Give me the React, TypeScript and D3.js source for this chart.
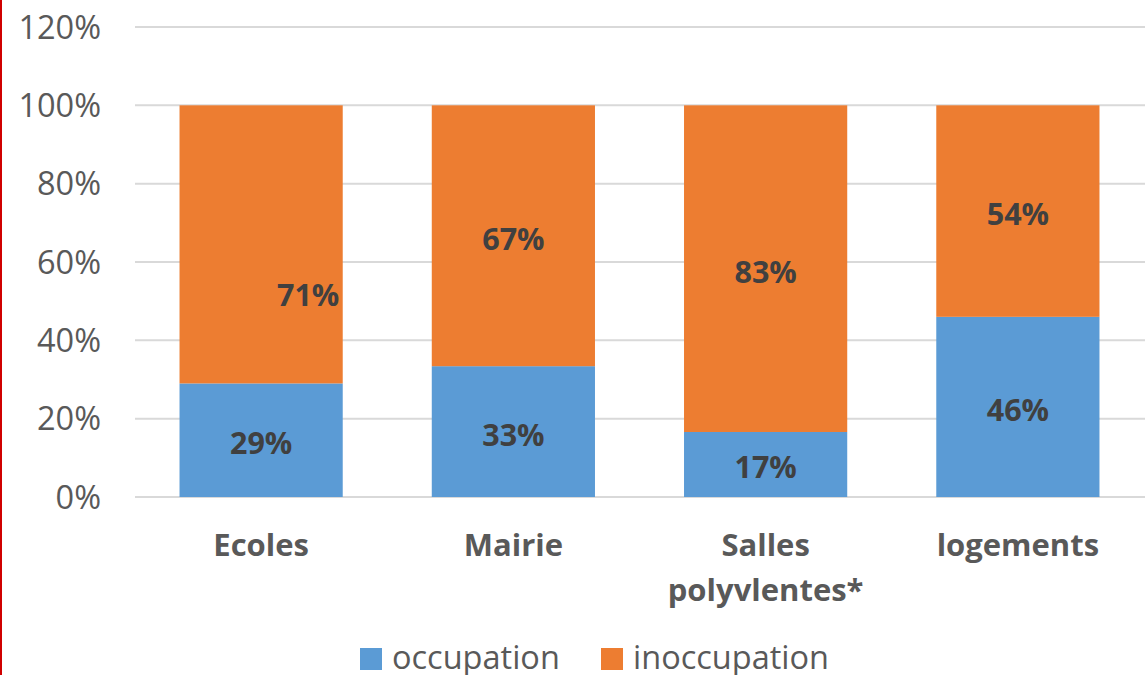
import React from "react";
import * as d3 from "d3";

const categories: string[][] = [["Ecoles"], ["Mairie"], ["Salles", "polyvlentes*"], ["logements"]];
const occupation: number[] = [29, 33.4, 16.6, 46];
const inoccupation: number[] = [71, 66.6, 83.4, 54];
const yTicks: number[] = [0, 20, 40, 60, 80, 100, 120];
const seriesNames: string[] = ["occupation", "inoccupation"];
const colors: string[] = ["#5B9BD5", "#ED7D31"];

// manual label displacement (Excel label moved in the original)
const labelShift: { [k: string]: [number, number] } = { "1-0": [47, 48] };

const W = 1145;
const H = 675;
const FONT = "'Open Sans', sans-serif";

export default function App() {
  const x = d3.scaleBand<number>().domain(d3.range(categories.length)).range([135, 1144]).paddingInner(0.353).paddingOuter(0.1765);
  const y = d3.scaleLinear().domain([0, 120]).range([497, 27]);
  const series = [occupation, inoccupation];
  const stack = d3.stack<number>().keys(["0", "1"]).value((i, k) => series[+k][i]);
  const stacked = stack(d3.range(categories.length));

  return (
    <div style={{ position: "fixed", left: 0, top: 0 }}>
      <svg width={W} height={H} style={{ display: "block", background: "#fff" }}>
        <rect x={0} y={0} width={2} height={H} fill="#D00000" />
        {yTicks.map((t) => (
          <g key={t}>
            <line x1={135} x2={W} y1={y(t)} y2={y(t)} stroke="#D9D9D9" strokeWidth={2} />
            <text x={101} y={y(t) - 1} textAnchor="end" dominantBaseline="central" fontFamily={FONT} fontSize={32.5} fill="#595959">
              {t}%
            </text>
          </g>
        ))}
        {stacked.map((s, si) =>
          s.map((d, i) => (
            <rect key={si + "-" + i} x={x(i)} width={x.bandwidth()} y={y(d[1])} height={y(d[0]) - y(d[1])} fill={colors[si]} />
          ))
        )}
        {stacked.map((s, si) =>
          s.map((d, i) => {
            const sh = labelShift[si + "-" + i] || [0, 0];
            return (
              <text
                key={"l" + si + "-" + i}
                x={(x(i) as number) + x.bandwidth() / 2 + sh[0]}
                y={(y(d[0]) + y(d[1])) / 2 + 2 + sh[1]}
                textAnchor="middle"
                dominantBaseline="central"
                fontFamily={FONT}
                fontWeight="bold"
                fontSize={30.5}
                fill="#404040"
              >
                {Math.round(series[si][i])}%
              </text>
            );
          })
        )}
        {categories.map((lines, i) =>
          lines.map((ln, li) => (
            <text
              key={"c" + i + "-" + li}
              x={(x(i) as number) + x.bandwidth() / 2}
              y={544 + li * 45}
              textAnchor="middle"
              dominantBaseline="central"
              fontFamily={FONT}
              fontWeight="bold"
              fontSize={31}
              fill="#595959"
            >
              {ln}
            </text>
          ))
        )}
        {seriesNames.map((n, i) => {
          const lx = [360, 601][i];
          return (
            <g key={n}>
              <rect x={lx} y={648} width={22} height={22} fill={colors[i]} />
              <text x={lx + 32} y={656} dominantBaseline="central" fontFamily={FONT} fontSize={32.5} fill="#595959">
                {n}
              </text>
            </g>
          );
        })}
      </svg>
    </div>
  );
}
